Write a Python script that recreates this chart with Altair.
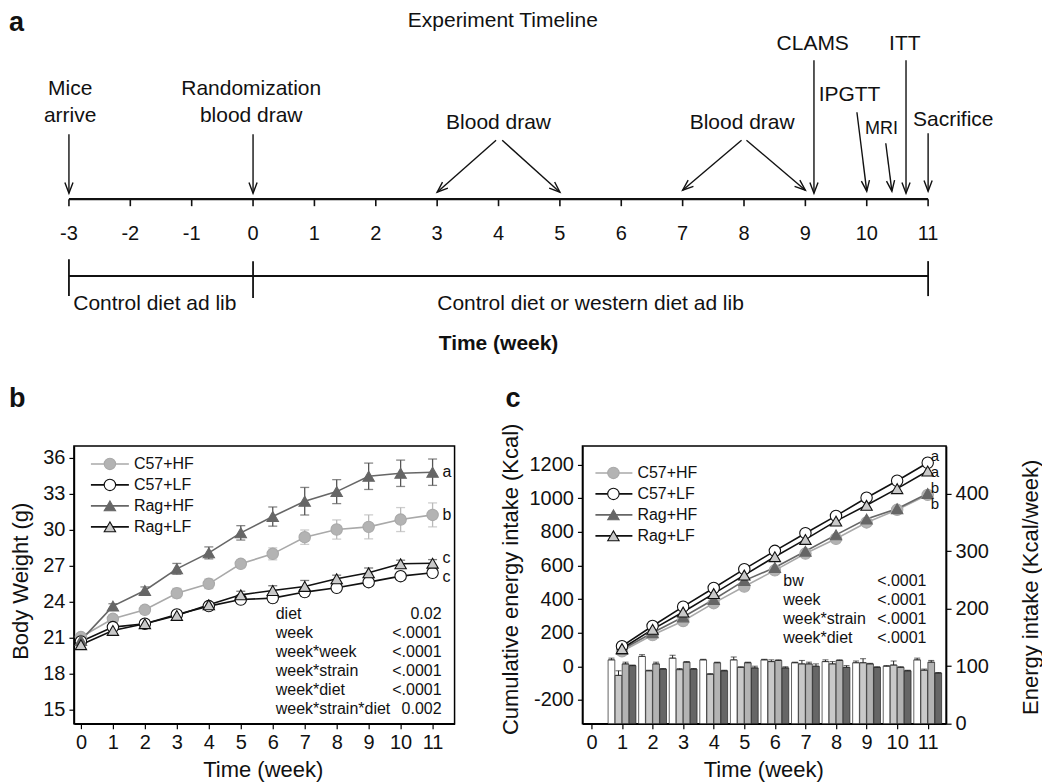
import math
import altair as alt
import pandas as pd

FONT = "Liberation Sans"
INK = "#111111"

# =========================== DATA ===========================
# ---- panel a : experiment timeline (weeks) ----
TIMELINE_WEEKS = list(range(-3, 12))
PHASE_BOUNDS = [-3, 0, 11]
PHASE_LABELS = ["Control diet ad lib", "Control diet or western diet ad lib"]
PHASE_LABEL_WEEK = [-2.93, 5.5]
EVENT_TEXT = ["Mice", "arrive", "Randomization", "blood draw", "Blood draw", "Blood draw",
              "CLAMS", "IPGTT", "MRI", "ITT", "Sacrifice"]
EVENT_TEXT_WEEK = [-2.98, -2.98, -0.03, -0.03, 4.0, 7.97, 9.12, 9.72, 10.24, 10.62, 11.41]
ARROW_FROM_WEEK = [-3, 0, 3.96, 4.06, 7.96, 8.04, 9.14, 9.84, 10.31, 10.64, 11]
ARROW_TO_WEEK = [-3, 0, 3, 5, 7, 9, 9.14, 10.0, 10.41, 10.64, 11]

# ---- panel b : body weight (g) ----
SERIES = ["C57+HF", "C57+LF", "Rag+HF", "Rag+LF"]
WEEKS_B = list(range(0, 12))
BW_C57_HF = [21.06, 22.58, 23.33, 24.72, 25.50, 27.17, 28.00, 29.39, 30.03, 30.25, 30.86, 31.25]
BW_C57_LF = [20.69, 21.89, 22.17, 22.94, 23.64, 24.19, 24.31, 24.81, 25.17, 25.64, 26.14, 26.42]
BW_RAG_HF = [20.78, 23.64, 24.94, 26.75, 28.08, 29.75, 31.11, 32.39, 33.19, 34.47, 34.72, 34.81]
BW_RAG_LF = [20.42, 21.61, 22.17, 22.86, 23.75, 24.58, 24.94, 25.28, 25.92, 26.42, 27.17, 27.22]
SE_C57_HF = [0.2, 0.3, 0.3, 0.4, 0.4, 0.3, 0.5, 0.6, 0.8, 1.0, 1.0, 1.0]
SE_C57_LF = [0.2, 0.2, 0.2, 0.3, 0.2, 0.2, 0.3, 0.3, 0.3, 0.3, 0.3, 0.3]
SE_RAG_HF = [0.2, 0.2, 0.3, 0.45, 0.5, 0.6, 0.8, 1.15, 1.0, 1.1, 1.1, 1.1]
SE_RAG_LF = [0.2, 0.3, 0.3, 0.3, 0.2, 0.3, 0.4, 0.5, 0.3, 0.4, 0.3, 0.3]
STATS_B_TERMS = ["diet", "week", "week*week", "week*strain", "week*diet", "week*strain*diet"]
STATS_B_P = ["0.02", "<.0001", "<.0001", "<.0001", "<.0001", "0.002"]
SIG_B = {"C57+HF": "b", "C57+LF": "c", "Rag+HF": "a", "Rag+LF": "c"}

# ---- panel c : energy intake ----
WEEKS_C = list(range(1, 12))
CUM_C57_HF = [90, 186, 270, 376, 475, 571, 671, 759, 856, 931, 1020]
CUM_C57_LF = [120, 240, 355, 466, 578, 687, 792, 895, 1003, 1104, 1211]
CUM_RAG_HF = [100, 200, 294, 398, 510, 588, 685, 782, 876, 938, 1028]
CUM_RAG_LF = [106, 220, 323, 433, 543, 652, 755, 864, 958, 1057, 1162]
BAR_ORDER = ["C57+LF", "Rag+LF", "C57+HF", "Rag+HF"]
WK_C57_LF = [111, 117, 114, 111, 111, 111, 106, 108, 106, 100, 111]
WK_RAG_LF = [84, 92, 94, 86, 98, 108, 104, 104, 106, 102, 93]
WK_C57_HF = [104, 104, 107, 106, 106, 110, 104, 110, 104, 98, 107]
WK_RAG_HF = [101, 95, 95, 92, 97, 97, 100, 98, 98, 92, 88]
WK_SE_C57_LF = [3, 3, 5, 1, 5, 1, 1, 3, 3, 1, 3]
WK_SE_RAG_LF = [8, 1, 2, 1, 1, 3, 6, 4, 7, 7, 2]
WK_SE_C57_HF = [3, 3, 1, 1, 1, 1, 3, 1, 1, 1, 3]
WK_SE_RAG_HF = [1, 1, 1, 1, 3, 2, 4, 3, 1, 1, 1]
STATS_C_TERMS = ["bw", "week", "week*strain", "week*diet"]
STATS_C_P = ["<.0001", "<.0001", "<.0001", "<.0001"]
SIG_C = {"C57+HF": "b", "C57+LF": "a", "Rag+HF": "b", "Rag+LF": "a"}

# =========================== STYLE / LAYOUT ===========================
LINE_COL = ["#a9a9a9", "#111111", "#666666", "#111111"]
FILL_COL = ["#b3b3b3", "#ffffff", "#666666", "#c9c9c9"]
EDGE_COL = ["#6f6f6f", "#222222", "#4f4f4f", "#444444"]
ERR_COL = ["#b9b9b9", "#333333", "#555555", "#444444"]
SHAPES = ["circle", "circle", "triangle-up", "triangle-up"]
SIZES = [130, 130, 150, 150]
BAR_FILL = ["#ffffff", "#e6e6e6", "#c4c4c4", "#5c5c5c"]

LINE_SCALE = alt.Scale(domain=SERIES, range=LINE_COL)
FILL_SCALE = alt.Scale(domain=SERIES, range=FILL_COL)
EDGE_SCALE = alt.Scale(domain=SERIES, range=EDGE_COL)
ERR_SCALE = alt.Scale(domain=SERIES, range=ERR_COL)
SHAPE_SCALE = alt.Scale(domain=SERIES, range=SHAPES)
SIZE_SCALE = alt.Scale(domain=SERIES, range=SIZES)

B_W, B_H = 381, 278
C_W, C_H = 364, 278
GAP_BC = 128

# panel a is drawn in pixel rows relative to the top-left of panel b's plot
A_RANGE = [-5, 855]
A_PX_PER_WK = (A_RANGE[1] - A_RANGE[0]) / 14.0
A_TOP = -436
A_AXIS_Y = -247
A_TICK_Y = -240
A_TICKLAB_Y = -212
A_BRACKET_Y = -170
BRACKET_Y0 = [-187, -185, -185]
BRACKET_Y1 = [-150, -148, -150]
A_PHASE_Y = -142
A_XTITLE_Y = -102
EVENT_TEXT_Y = [-357, -330, -357, -330, -323, -323, -402, -351, -317, -402, -326]
EVENT_TEXT_FS = [21, 21, 21, 21, 21, 21, 21, 21, 18, 21, 21]
ARROW_Y_FROM = [-312, -312, -306, -306, -306, -306, -386, -334, -303, -386, -313]
ARROW_Y_TO = [-253, -253, -254, -254, -256, -256, -253, -255, -255, -253, -255]
ARROW_HEAD = "M-0.38,-1L0,0L0.38,-1"

# panel b scales (domain chosen so ticks sit where the reference puts them)
B_XDOM = [-7 / 32.0, (B_W - 7) / 32.0]
B_YDOM = [36 - (B_H - 12) / 12.0, 36 + 12 / 12.0]
# panel c scales
C_XDOM = [-9 / 30.6, (C_W - 9) / 30.6]
C_LDOM = [-341, 1311]
C_RDOM = [0, 483]


def bx(px):
    return B_XDOM[0] + px * (B_XDOM[1] - B_XDOM[0]) / B_W


def by(py):
    return B_YDOM[1] - py * (B_YDOM[1] - B_YDOM[0]) / B_H


def cx(px):
    return C_XDOM[0] + px * (C_XDOM[1] - C_XDOM[0]) / C_W


def cy(py):
    return C_LDOM[1] - py * (C_LDOM[1] - C_LDOM[0]) / C_H


def head_angle(x0, y0, x1, y1):
    dx = (x1 - x0) * A_PX_PER_WK
    dy = y1 - y0
    return (math.degrees(math.atan2(-dx, dy)) + 360.0) % 360.0


ONE = pd.DataFrame({"k": [0]})

# =========================== PANEL A ===========================
XA = alt.Scale(domain=[-3, 11], range=A_RANGE, nice=False, zero=False)
YP = alt.Scale(domain=[0, 100], range=[0, 100], nice=False, zero=False)


def ax(f):
    return alt.X(f, type="quantitative", scale=XA, axis=None)


def ay(f):
    return alt.Y(f, type="quantitative", scale=YP, axis=None)


a_line_df = pd.DataFrame({"w0": [TIMELINE_WEEKS[0]], "w1": [TIMELINE_WEEKS[-1]],
                          "y": [A_AXIS_Y], "yb": [A_BRACKET_Y]})
a_axis_line = alt.Chart(a_line_df).mark_rule(color=INK, strokeWidth=2.2).encode(
    x=ax("w0"), x2="w1:Q", y=ay("y"))
a_bracket_line = alt.Chart(a_line_df).mark_rule(color=INK, strokeWidth=2).encode(
    x=ax("w0"), x2="w1:Q", y=ay("yb"))

a_tick_df = pd.DataFrame({"week": TIMELINE_WEEKS,
                          "lab": [str(w) for w in TIMELINE_WEEKS],
                          "y0": [A_AXIS_Y] * len(TIMELINE_WEEKS),
                          "y1": [A_TICK_Y] * len(TIMELINE_WEEKS),
                          "yl": [A_TICKLAB_Y] * len(TIMELINE_WEEKS)})
a_ticks = alt.Chart(a_tick_df).mark_rule(color=INK, strokeWidth=1.6).encode(
    x=ax("week"), y=ay("y0"), y2="y1:Q")
a_ticklabs = alt.Chart(a_tick_df).mark_text(fontSize=20, color=INK, align="center",
                                            baseline="middle").encode(
    x=ax("week"), y=ay("yl"), text="lab:N")

a_br_df = pd.DataFrame({"week": PHASE_BOUNDS, "y0": BRACKET_Y0, "y1": BRACKET_Y1})
a_bracket_v = alt.Chart(a_br_df).mark_rule(color=INK, strokeWidth=1.8).encode(
    x=ax("week"), y=ay("y0"), y2="y1:Q")

a_phase_df = pd.DataFrame({"t": PHASE_LABELS, "week": PHASE_LABEL_WEEK,
                           "y": [A_PHASE_Y, A_PHASE_Y]})
a_phase1 = alt.Chart(a_phase_df.iloc[[0]]).mark_text(fontSize=21, color=INK, align="left",
                                                     baseline="middle").encode(
    x=ax("week"), y=ay("y"), text="t:N")
a_phase2 = alt.Chart(a_phase_df.iloc[[1]]).mark_text(fontSize=21, color=INK, align="center",
                                                     baseline="middle").encode(
    x=ax("week"), y=ay("y"), text="t:N")

a_head_df = pd.DataFrame({"t": ["Experiment Timeline", "Time (week)"], "week": [4.07, 4.0],
                          "y": [A_TOP, A_XTITLE_Y]})
a_title = alt.Chart(a_head_df.iloc[[0]]).mark_text(fontSize=21, color=INK, align="center",
                                                   baseline="top").encode(
    x=ax("week"), y=ay("y"), text="t:N")
a_xtitle = alt.Chart(a_head_df.iloc[[1]]).mark_text(fontSize=21, fontWeight="bold", color=INK,
                                                    align="center", baseline="middle").encode(
    x=ax("week"), y=ay("y"), text="t:N")

a_ev_df = pd.DataFrame({"t": EVENT_TEXT, "week": EVENT_TEXT_WEEK, "y": EVENT_TEXT_Y,
                        "fs": EVENT_TEXT_FS})
a_events = alt.Chart(a_ev_df).mark_text(color=INK, align="center", baseline="middle").encode(
    x=ax("week"), y=ay("y"), text="t:N", size=alt.Size("fs:Q", scale=None))

a_arrow_df = pd.DataFrame({"x0": ARROW_FROM_WEEK, "x1": ARROW_TO_WEEK,
                           "y0": ARROW_Y_FROM, "y1": ARROW_Y_TO})
a_arrow_df["ang"] = [head_angle(r.x0, r.y0, r.x1, r.y1) for r in a_arrow_df.itertuples()]
a_shafts = alt.Chart(a_arrow_df).mark_rule(color=INK, strokeWidth=1.4).encode(
    x=ax("x0"), x2="x1:Q", y=ay("y0"), y2="y1:Q")
a_heads = alt.Chart(a_arrow_df).mark_point(shape=ARROW_HEAD, filled=False, size=460,
                                           strokeWidth=1.4, color=INK, opacity=1).encode(
    x=ax("x1"), y=ay("y1"), angle=alt.Angle("ang:Q", scale=None))

a_letter = alt.Chart(ONE).mark_text(text="a", fontSize=27, fontWeight="bold", color=INK,
                                    align="left", baseline="top").encode(
    x=alt.value(-65), y=alt.value(A_TOP))

a_group = alt.layer(a_axis_line, a_ticks, a_ticklabs, a_bracket_line, a_bracket_v, a_phase1,
                    a_phase2, a_title, a_xtitle, a_events, a_shafts, a_heads, a_letter)

# =========================== PANEL B ===========================
b_vals = [BW_C57_HF, BW_C57_LF, BW_RAG_HF, BW_RAG_LF]
b_errs = [SE_C57_HF, SE_C57_LF, SE_RAG_HF, SE_RAG_LF]
rows = []
for s, vals, errs in zip(SERIES, b_vals, b_errs):
    for w, v, e in zip(WEEKS_B, vals, errs):
        rows.append({"series": s, "week": w, "bw": v, "err": e})
dfb = pd.DataFrame(rows)

XB = alt.Scale(domain=B_XDOM, nice=False, zero=False)
YB = alt.Scale(domain=B_YDOM, nice=False, zero=False)
XB_AX = alt.Axis(orient="bottom", values=WEEKS_B, title="Time (week)", titleX=189,
                 titleY=46, titleBaseline="middle", titleAlign="center")
YB_AX = alt.Axis(orient="left", values=[15, 18, 21, 24, 27, 30, 33, 36], title="Body Weight (g)",
                 titleAngle=270, titleX=-53, titleY=135, titleBaseline="middle",
                 titleAlign="center")


def bX(f):
    return alt.X(f, type="quantitative", scale=XB, axis=XB_AX)


def bY(f):
    return alt.Y(f, type="quantitative", scale=YB, axis=YB_AX)


ser_stroke = alt.Stroke("series:N", scale=LINE_SCALE, legend=None)
pt_enc = dict(shape=alt.Shape("series:N", scale=SHAPE_SCALE, legend=None),
              fill=alt.Fill("series:N", scale=FILL_SCALE, legend=None),
              stroke=alt.Stroke("series:N", scale=EDGE_SCALE, legend=None),
              size=alt.Size("series:N", scale=SIZE_SCALE, legend=None))

b_lines = alt.Chart(dfb).mark_line(strokeWidth=1.6).encode(
    x=bX("week"), y=bY("bw"), stroke=ser_stroke, detail="series:N")
b_err = alt.Chart(dfb).mark_errorbar(ticks={"size": 9}, thickness=1.3).encode(
    x=bX("week"), y=bY("bw"), yError="err:Q",
    color=alt.Color("series:N", scale=ERR_SCALE, legend=None))
b_pts = alt.Chart(dfb).mark_point(filled=True, opacity=1, strokeWidth=1.1).encode(
    x=bX("week"), y=bY("bw"), **pt_enc)

LEG_B_ROWS = [18, 39, 60, 81]
leg_b = pd.DataFrame({"series": SERIES,
                      "lx0": [bx(17)] * 4, "lx1": [bx(55)] * 4, "lxm": [bx(36)] * 4,
                      "ltx": [bx(60)] * 4, "ly": [by(p) for p in LEG_B_ROWS]})
b_leg_rule = alt.Chart(leg_b).mark_rule(strokeWidth=1.6).encode(
    x=bX("lx0"), x2="lx1:Q", y=bY("ly"), stroke=ser_stroke)
b_leg_pts = alt.Chart(leg_b).mark_point(filled=True, opacity=1, strokeWidth=1.1).encode(
    x=bX("lxm"), y=bY("ly"), **pt_enc)
b_leg_txt = alt.Chart(leg_b).mark_text(fontSize=16, color=INK, align="left",
                                       baseline="middle").encode(
    x=bX("ltx"), y=bY("ly"), text="series:N")

SIG_B_NUDGE = {"C57+HF": 0, "C57+LF": 4, "Rag+HF": 0, "Rag+LF": -5}
sig_b = pd.DataFrame({"series": SERIES, "t": [SIG_B[s] for s in SERIES],
                      "sx": [WEEKS_B[-1]] * 4,
                      "sy": [v[-1] - SIG_B_NUDGE[s] / 12.0 for s, v in zip(SERIES, b_vals)]})
b_sig = alt.Chart(sig_b).mark_text(fontSize=16, color=INK, align="left", baseline="middle",
                                   dx=10).encode(x=bX("sx"), y=bY("sy"), text="t:N")

b_stats_l = alt.Chart(ONE).mark_text(text=STATS_B_TERMS, fontSize=16, lineHeight=19, color=INK,
                                     align="left", baseline="top").encode(
    x=alt.value(202), y=alt.value(160))
b_stats_r = alt.Chart(ONE).mark_text(text=STATS_B_P, fontSize=16, lineHeight=19, color=INK,
                                     align="right", baseline="top").encode(
    x=alt.value(368), y=alt.value(160))
b_letter = alt.Chart(ONE).mark_text(text="b", fontSize=27, fontWeight="bold", color=INK,
                                    align="left", baseline="top").encode(
    x=alt.value(-65), y=alt.value(-60))

b_group = alt.layer(b_lines, b_err, b_pts, b_leg_rule, b_leg_pts, b_leg_txt, b_sig,
                    b_stats_l, b_stats_r, b_letter)

panel_b = alt.layer(a_group, b_group).resolve_scale(
    x="independent", y="independent").properties(width=B_W, height=B_H)

# =========================== PANEL C ===========================
c_vals = [CUM_C57_HF, CUM_C57_LF, CUM_RAG_HF, CUM_RAG_LF]
rows = []
for s, vals in zip(SERIES, c_vals):
    for w, v in zip(WEEKS_C, vals):
        rows.append({"series": s, "week": w, "cum": v})
dfc = pd.DataFrame(rows)

wk_vals = [WK_C57_LF, WK_RAG_LF, WK_C57_HF, WK_RAG_HF]
wk_errs = [WK_SE_C57_LF, WK_SE_RAG_LF, WK_SE_C57_HF, WK_SE_RAG_HF]
rows = []
for k, (s, vals, errs) in enumerate(zip(BAR_ORDER, wk_vals, wk_errs)):
    for w, v, e in zip(WEEKS_C, vals, errs):
        rows.append({"series": s, "k": k, "week": w, "v": v, "e": e})
dfbar = pd.DataFrame(rows)

XC = alt.Scale(domain=C_XDOM, nice=False, zero=False)
YL = alt.Scale(domain=C_LDOM, nice=False, zero=False)
YR = alt.Scale(domain=C_RDOM, nice=False, zero=False)
XC_AX = alt.Axis(orient="bottom", values=WEEKS_B, title="Time (week)", titleX=181,
                 titleY=46, titleBaseline="middle", titleAlign="center")
YL_AX = alt.Axis(orient="left", values=[-200, 0, 200, 400, 600, 800, 1000, 1200],
                 labelExpr="datum.value < 0 ? '-' + abs(datum.value) : '' + datum.value",
                 title="Cumulative energy intake (Kcal)", titleAngle=270, titleX=-72,
                 titleY=133, titleBaseline="middle", titleAlign="center")
YR_AX = alt.Axis(orient="right", values=[0, 100, 200, 300, 400],
                 title="Energy intake (Kcal/week)", titleAngle=270, titleX=84, titleY=141,
                 titleBaseline="middle", titleAlign="center")


def cX(f):
    return alt.X(f, type="quantitative", scale=XC, axis=XC_AX)


def cL(f):
    return alt.Y(f, type="quantitative", scale=YL, axis=YL_AX)


def cR(f):
    return alt.Y(f, type="quantitative", scale=YR, axis=YR_AX)


bar_base = alt.Chart(dfbar).transform_calculate(
    xl="datum.week + (datum.k - 2) * 0.23 + 0.005",
    xr="datum.week + (datum.k - 2) * 0.23 + 0.225",
    xc="datum.week + (datum.k - 2) * 0.23 + 0.115",
    hi="datum.v + datum.e")
c_bars = bar_base.mark_bar(stroke="#222222", strokeWidth=0.7).encode(
    x=cX("xl"), x2="xr:Q", y=cR("v"), y2=alt.datum(0),
    fill=alt.Fill("series:N", scale=alt.Scale(domain=BAR_ORDER, range=BAR_FILL), legend=None))
c_bar_err = bar_base.mark_errorbar(ticks={"size": 6}, thickness=1, color="#222222").encode(
    x=cX("xc"), y=cR("v"), y2="hi:Q")
c_bar_group = alt.layer(c_bars, c_bar_err)

c_lines = alt.Chart(dfc).mark_line(strokeWidth=1.6).encode(
    x=cX("week"), y=cL("cum"), stroke=ser_stroke, detail="series:N")
c_pts = alt.Chart(dfc).mark_point(filled=True, opacity=1, strokeWidth=1.1).encode(
    x=cX("week"), y=cL("cum"), **pt_enc)

LEG_C_ROWS = [27, 48, 69, 90]
leg_c = pd.DataFrame({"series": SERIES,
                      "lx0": [cx(13)] * 4, "lx1": [cx(50)] * 4, "lxm": [cx(31)] * 4,
                      "ltx": [cx(55)] * 4, "ly": [cy(p) for p in LEG_C_ROWS]})
c_leg_rule = alt.Chart(leg_c).mark_rule(strokeWidth=1.6).encode(
    x=cX("lx0"), x2="lx1:Q", y=cL("ly"), stroke=ser_stroke)
c_leg_pts = alt.Chart(leg_c).mark_point(filled=True, opacity=1, strokeWidth=1.1).encode(
    x=cX("lxm"), y=cL("ly"), **pt_enc)
c_leg_txt = alt.Chart(leg_c).mark_text(fontSize=16, color=INK, align="left",
                                       baseline="middle").encode(
    x=cX("ltx"), y=cL("ly"), text="series:N")

PX_PER_KCAL = C_H / (C_LDOM[1] - C_LDOM[0])
# letters are stacked on the right edge (pixel nudge, + = down)
SIG_C_NUDGE = {"C57+HF": 9, "C57+LF": -7, "Rag+HF": -6, "Rag+LF": 1}
sig_c = pd.DataFrame({"series": SERIES, "t": [SIG_C[s] for s in SERIES],
                      "sx": [WEEKS_C[-1]] * 4,
                      "sy": [v[-1] - SIG_C_NUDGE[s] / PX_PER_KCAL for s, v in zip(SERIES, c_vals)]})
c_sig = alt.Chart(sig_c).mark_text(fontSize=15, color=INK, align="left", baseline="middle",
                                   dx=3).encode(x=cX("sx"), y=cL("sy"), text="t:N")

c_stats_l = alt.Chart(ONE).mark_text(text=STATS_C_TERMS, fontSize=16, lineHeight=19, color=INK,
                                     align="left", baseline="top").encode(
    x=alt.value(201), y=alt.value(127))
c_stats_r = alt.Chart(ONE).mark_text(text=STATS_C_P, fontSize=16, lineHeight=19, color=INK,
                                     align="left", baseline="top").encode(
    x=alt.value(295), y=alt.value(127))
c_letter = alt.Chart(ONE).mark_text(text="c", fontSize=27, fontWeight="bold", color=INK,
                                    align="left", baseline="top").encode(
    x=alt.value(-77), y=alt.value(-60))

c_line_group = alt.layer(c_lines, c_pts, c_leg_rule, c_leg_pts, c_leg_txt, c_sig,
                         c_stats_l, c_stats_r, c_letter)

panel_c = alt.layer(c_bar_group, c_line_group).resolve_scale(y="independent").properties(
    width=C_W, height=C_H)

# =========================== ASSEMBLE ===========================
chart = alt.hconcat(panel_b, panel_c, spacing=GAP_BC, bounds="flush").properties(
    padding=0
).configure(font=FONT).configure_axis(
    labelFont=FONT, titleFont=FONT, labelFontSize=20, titleFontSize=22,
    titleFontWeight="normal", labelColor=INK, titleColor=INK, domainColor="#000000",
    domainWidth=1.5, tickColor="#000000", tickWidth=1.2, tickSize=5, labelPadding=4,
    grid=False, labelFlush=False, labelOverlap=False
).configure_view(stroke="#000000", strokeWidth=1.5).configure_text(font=FONT)

chart.save("out.html", embed_options={"renderer": "svg", "actions": False})
